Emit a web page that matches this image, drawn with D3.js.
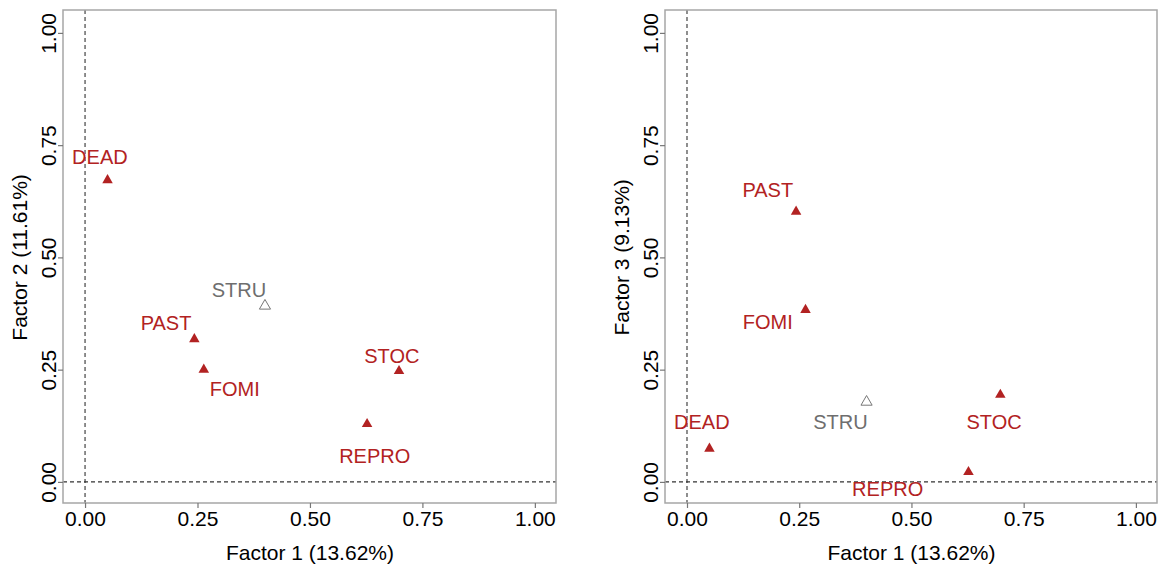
<!DOCTYPE html>
<html>
<head>
<meta charset="utf-8">
<script src="https://cdn.jsdelivr.net/npm/d3@7"></script>
<style>
  html, body { margin: 0; padding: 0; background: #ffffff; }
  svg { display: block; }
  text { font-family: "Liberation Sans", Arial, Helvetica, sans-serif; }
</style>
</head>
<body>
<svg id="chart" width="1164" height="569"></svg>
<script>
// ---- data ----
const categories = ["DEAD", "PAST", "FOMI", "STRU", "STOC", "REPRO"];
const supplementary = [false, false, false, true, false, false];
const factor1 = [0.050, 0.243, 0.264, 0.400, 0.698, 0.627];
const factor2 = [0.672, 0.318, 0.250, 0.392, 0.247, 0.129];
const factor3 = [0.074, 0.602, 0.383, 0.178, 0.194, 0.022];
// label anchor positions (data units) as placed in the original (repelled labels)
const labelX12 = [0.033, 0.180, 0.333, 0.342, 0.682, 0.644];
const labelY12 = [0.724, 0.354, 0.207, 0.428, 0.281, 0.058];
const labelX13 = [0.033, 0.180, 0.180, 0.342, 0.684, 0.447];
const labelY13 = [0.134, 0.650, 0.356, 0.134, 0.134, -0.016];
const tickValues = [0, 0.25, 0.5, 0.75, 1.0];
const tickLabels = ["0.00", "0.25", "0.50", "0.75", "1.00"];
const xTitle = "Factor 1 (13.62%)";
const yTitle12 = "Factor 2 (11.61%)";
const yTitle13 = "Factor 3 (9.13%)";

// ---- styles ----
const RED = "#b22222";
const GREY_TEXT = "#6e6e6e";
const BOX = "#a6a6a6";
const FS = 21;
const FS_LBL = 20;

const svg = d3.select("#chart");

function panel(left, width, yVals, lx, ly, yTitle) {
  const top = 10, height = 493;
  const g = svg.append("g").attr("transform", `translate(${left},${top})`);
  const x = d3.scaleLinear().domain([-0.049, 1.047]).range([0, width]);
  const y = d3.scaleLinear().domain([-0.047, 1.051]).range([height, 0]);

  // reference dashed lines
  g.append("line")
    .attr("x1", x(0)).attr("x2", x(0)).attr("y1", 0).attr("y2", height)
    .attr("stroke", "#333").attr("stroke-width", 1.1).attr("stroke-dasharray", "4,3");
  g.append("line")
    .attr("x1", 0).attr("x2", width).attr("y1", y(0)).attr("y2", y(0))
    .attr("stroke", "#333").attr("stroke-width", 1.1).attr("stroke-dasharray", "4,3");

  // box
  g.append("rect").attr("x", 0).attr("y", 0).attr("width", width).attr("height", height)
    .attr("fill", "none").attr("stroke", BOX).attr("stroke-width", 1.5);

  // x axis
  const xa = g.append("g").attr("transform", `translate(0,${height})`)
    .call(d3.axisBottom(x).tickValues(tickValues).tickFormat((d, i) => tickLabels[i]).tickSize(5).tickPadding(3));
  xa.select(".domain").remove();
  xa.selectAll(".tick line").attr("stroke", "#777").attr("stroke-width", 1.2);
  xa.selectAll(".tick text").attr("font-size", FS).attr("fill", "#000")
    .attr("font-family", "Liberation Sans, Arial, sans-serif");

  // y axis
  const ya = g.append("g")
    .call(d3.axisLeft(y).tickValues(tickValues).tickFormat((d, i) => tickLabels[i]).tickSize(5));
  ya.select(".domain").remove();
  ya.selectAll(".tick line").attr("stroke", "#777").attr("stroke-width", 1.2);
  ya.selectAll(".tick text")
    .attr("font-size", FS).attr("fill", "#000")
    .attr("font-family", "Liberation Sans, Arial, sans-serif")
    .attr("x", null)
    .attr("text-anchor", "middle")
    .attr("transform", "translate(-14,0) rotate(-90)")
    .attr("dy", "0.35em");

  // titles
  g.append("text").attr("x", x(0.5)).attr("y", height + 50)
    .attr("text-anchor", "middle").attr("dy", "0.35em")
    .attr("font-size", FS).attr("fill", "#000").text(xTitle);
  g.append("text")
    .attr("transform", `translate(-43,${y(0.5)}) rotate(-90)`)
    .attr("text-anchor", "middle").attr("dy", "0.35em")
    .attr("font-size", FS).attr("fill", "#000").text(yTitle);

  // points
  const data = categories.map((c, i) => ({
    name: c, sup: supplementary[i], x: factor1[i], y: yVals[i], lx: lx[i], ly: ly[i]
  }));
  g.selectAll("path.pt").data(data).join("path")
    .attr("class", "pt")
    .attr("transform", d => `translate(${x(d.x)},${y(d.y)})`)
    .attr("d", d => d3.symbol(d3.symbolTriangle, d.sup ? 54 : 48)())
    .attr("fill", d => d.sup ? "none" : RED)
    .attr("stroke", d => d.sup ? "#777" : "none")
    .attr("stroke-width", 1);

  g.selectAll("text.lbl").data(data).join("text")
    .attr("class", "lbl")
    .attr("x", d => x(d.lx)).attr("y", d => y(d.ly))
    .attr("dy", "0.35em").attr("text-anchor", "middle")
    .attr("font-size", FS_LBL)
    .attr("fill", d => d.sup ? GREY_TEXT : RED)
    .text(d => d.name);
}

panel(63, 493, factor2, labelX12, labelY12, yTitle12);
panel(665, 492, factor3, labelX13, labelY13, yTitle13);
</script>
</body>
</html>
